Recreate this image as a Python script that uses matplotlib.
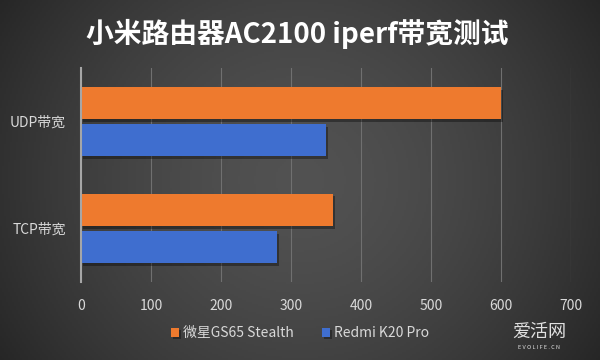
import matplotlib
matplotlib.use("Agg")
import matplotlib.pyplot as plt
import matplotlib.patheffects as pe
import numpy as np

plt.rcParams['font.family'] = ['Noto Sans CJK SC', 'DejaVu Sans']

# data
categories = ['UDP带宽', 'TCP带宽']
series_names = ['微星GS65 Stealth', 'Redmi K20 Pro']
msi_vals = [600, 360]
redmi_vals = [350, 280]
xticks = [0, 100, 200, 300, 400, 500, 600, 700]
title = '小米路由器AC2100 iperf带宽测试'

orange = '#EE7A2E'
blue = '#3F6ECF'
txt = '#D9D9D9'

fig = plt.figure(figsize=(6, 3.6), dpi=100)

# dark radial background
bg = fig.add_axes([0, 0, 1, 1], zorder=-10)
gx, gy = np.meshgrid(np.linspace(-1, 1, 300), np.linspace(-1, 1, 180))
r = np.sqrt((gx * 0.95) ** 2 + (gy * 0.6) ** 2)
shade = 0.32 - 0.14 * np.clip(r, 0, 1.3) ** 1.6
bg.imshow(np.dstack([shade] * 3), aspect='auto', extent=[0, 1, 0, 1])
bg.axis('off')

ax = fig.add_axes([0.135, 0.217, 0.817, 0.594])
ax.patch.set_alpha(0)

y = np.arange(len(categories))
h = 0.3
shadow = [pe.SimplePatchShadow(offset=(1.5, -2), shadow_rgbFace='black', alpha=0.35), pe.Normal()]
b1 = ax.barh(y - 0.175, msi_vals, height=h, color=orange, zorder=3, label=series_names[0])
b2 = ax.barh(y + 0.175, redmi_vals, height=h, color=blue, zorder=3, label=series_names[1])
for b in list(b1) + list(b2):
    b.set_path_effects(shadow)

ax.set_ylim(-0.5, 1.5)
ax.invert_yaxis()
ax.set_xlim(0, 700)
ax.set_xticks(xticks)
ax.set_yticks(y)
ax.set_yticklabels(categories)
ax.tick_params(axis='both', length=0, colors=txt, labelsize=10)
ax.tick_params(axis='x', pad=12)
ax.tick_params(axis='y', pad=11)
ax.grid(axis='x', color='#707070', linewidth=0.8, zorder=0)
for s in ['top', 'right', 'bottom']:
    ax.spines[s].set_visible(False)
ax.spines['left'].set_color('#A6A6A6')
ax.spines['left'].set_linewidth(1.5)
ax.spines['left'].set_zorder(4)

fig.text(0.495, 0.905, title, ha='center', va='center', color='white',
         fontsize=20, fontweight='bold')

leg = fig.legend(handles=[b1, b2], loc='center', bbox_to_anchor=(0.5, 0.075),
                 ncol=2, frameon=False, fontsize=10, handlelength=0.6, handleheight=0.6,
                 handletextpad=0.3, columnspacing=2.0)
for t in leg.get_texts():
    t.set_color(txt)

# watermark
fig.text(0.898, 0.078, '爱活网', ha='center', va='center', color='#E0E0E0', fontsize=13)
fig.text(0.898, 0.036, 'E V O L I F E . C N', ha='center', va='center', color='#E0E0E0', fontsize=4)

fig.savefig('out.png', dpi=100)
